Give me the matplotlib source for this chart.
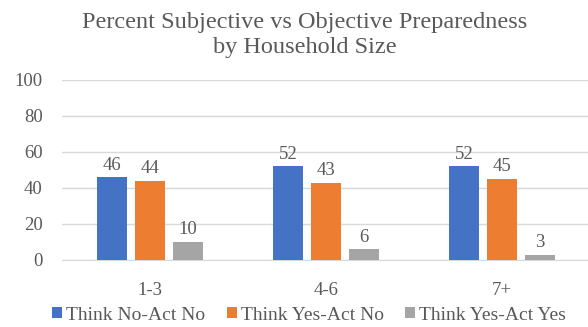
import matplotlib
matplotlib.use("Agg")
import matplotlib.pyplot as plt
import numpy as np

categories = ["1-3", "4-6", "7+"]
series_names = ["Think No-Act No", "Think Yes-Act No", "Think Yes-Act Yes"]
think_no_act_no = [46, 52, 52]
think_yes_act_no = [44, 43, 45]
think_yes_act_yes = [10, 6, 3]
y_ticks = [0, 20, 40, 60, 80, 100]

colors = ["#4472C4", "#ED7D31", "#A5A5A5"]
text_color = "#595959"
plt.rcParams['font.family'] = ['Liberation Serif', 'DejaVu Serif']

W, H = 588, 327
fig = plt.figure(figsize=(W/100, H/100), dpi=100)
ax = fig.add_axes([62/W, (H-260)/H, (588-62)/W, 180/H])

x = np.arange(len(categories))
bw = 0.17
step = 0.216
all_series = [think_no_act_no, think_yes_act_no, think_yes_act_yes]
for i, (vals, name, c) in enumerate(zip(all_series, series_names, colors)):
    pos = x + (i - 1) * step
    bars = ax.bar(pos, vals, width=bw, color=c, label=name, zorder=3)
    for p, v in zip(pos, vals):
        ax.text(p, v + 2, str(v), ha='center', va='bottom', fontsize=13.5, color=text_color)

ax.set_xlim(-0.5, 2.5 - 2/176)
ax.set_ylim(0, 100)
ax.set_yticks(y_ticks)
ax.set_xticks(x)
ax.set_xticklabels(categories)
ax.tick_params(axis='both', length=0, labelsize=13.5, colors=text_color)
ax.tick_params(axis='y', pad=14)
ax.tick_params(axis='x', pad=15.5)
ax.grid(axis='y', color='#D9D9D9', linewidth=1, zorder=0)
for s in ['top', 'right', 'left']:
    ax.spines[s].set_visible(False)
ax.spines['bottom'].set_color('#D9D9D9')
ax.spines['bottom'].set_zorder(1)

fig.text(305/W, (H-28)/H, "Percent Subjective vs Objective Preparedness",
         ha='center', va='baseline', fontsize=17.5, color=text_color)
fig.text(305/W, (H-53)/H, "by Household Size",
         ha='center', va='baseline', fontsize=17.5, color=text_color)

leg = fig.legend(loc='center', bbox_to_anchor=(309/W, (H-315)/H), ncol=3, frameon=False,
                 fontsize=14, handlelength=0.52, handleheight=0.52, handletextpad=0.2,
                 columnspacing=1.1, borderpad=0, borderaxespad=0)
for t in leg.get_texts():
    t.set_color(text_color)

fig.savefig("out.png", dpi=100)
